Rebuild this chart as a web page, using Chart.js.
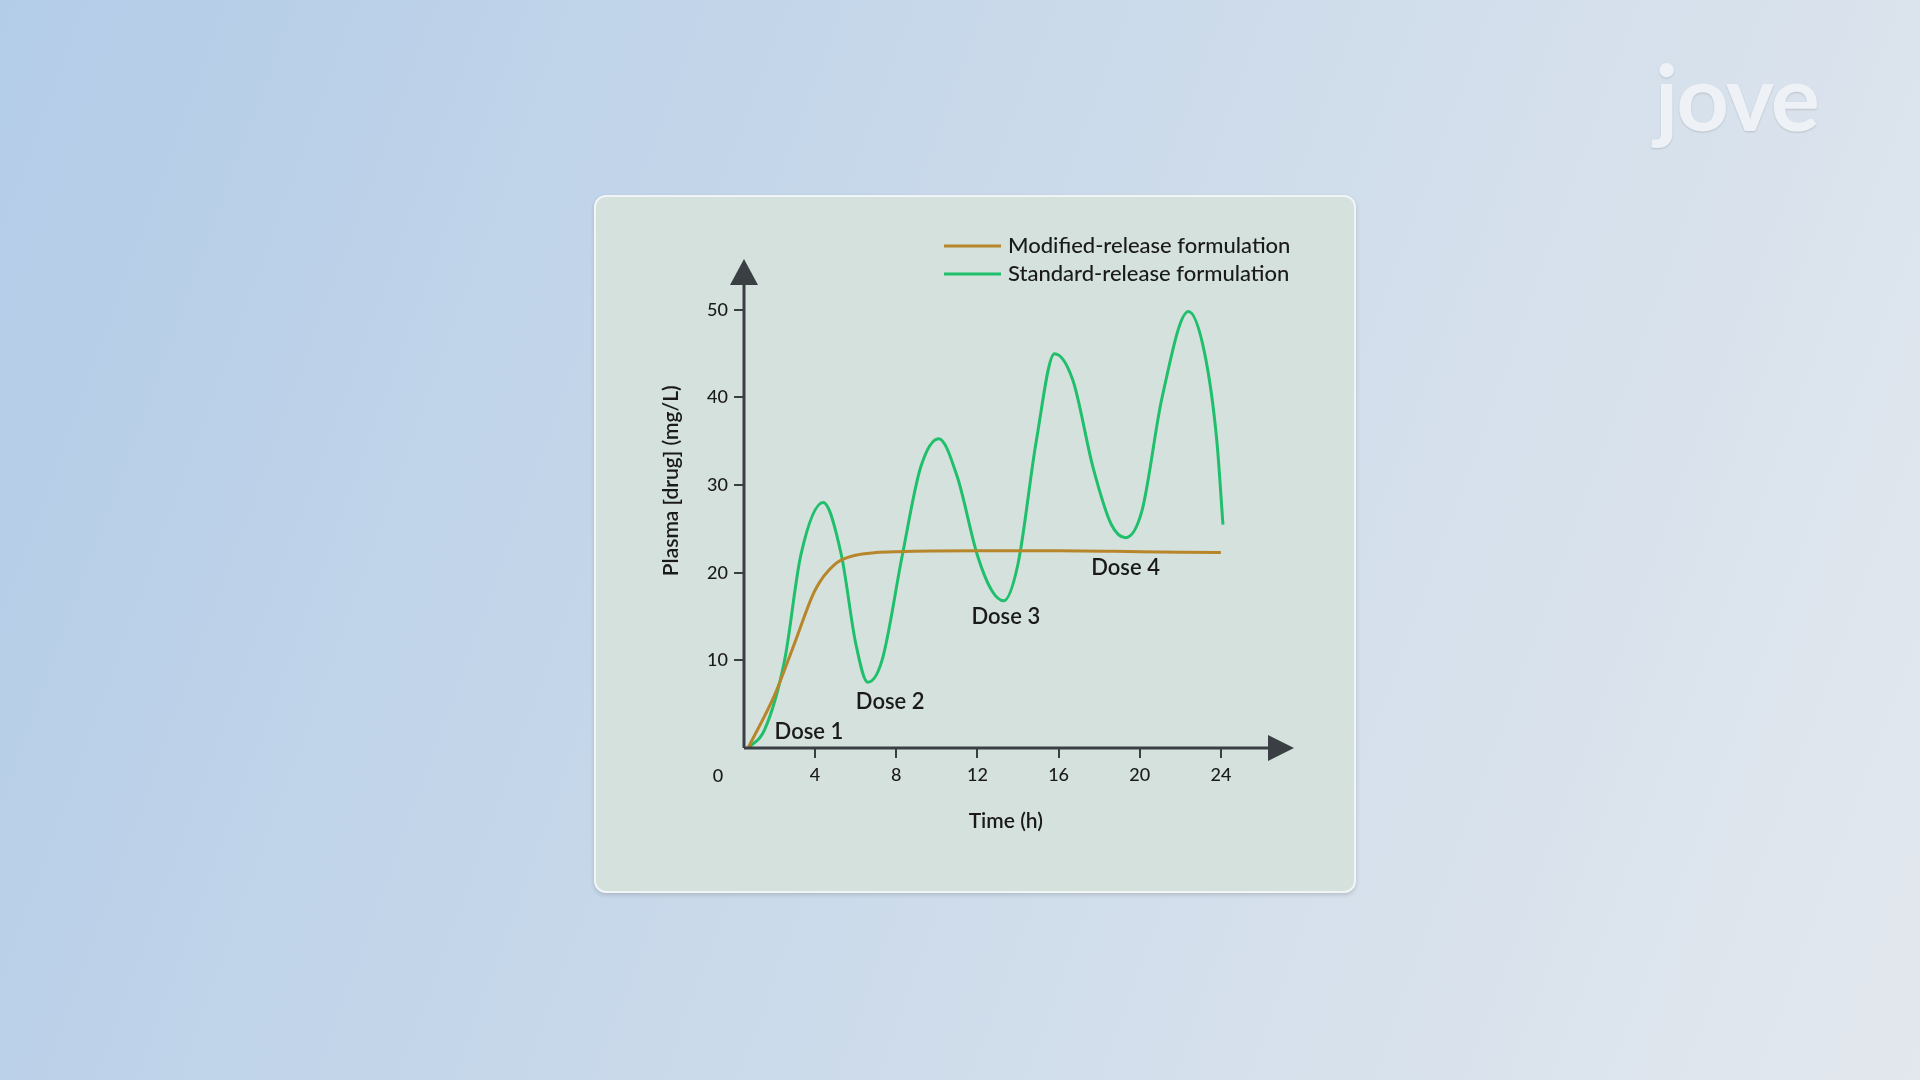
<!DOCTYPE html>
<html><head><meta charset="utf-8">
<script src="https://cdn.jsdelivr.net/npm/chart.js@4"></script>
<style>
html,body{margin:0;width:1920px;height:1080px;overflow:hidden;font-family:Lato,sans-serif}
body{background:linear-gradient(110deg,#b3cce8 0%,#c9d9ea 45%,#e3e8ee 100%)}
#card{position:absolute;left:594px;top:195px;width:762px;height:698px;background:#d5e1dd;border:2px solid #f2f5f6;border-radius:12px;box-shadow:0 2px 4px rgba(0,0,0,0.15);box-sizing:border-box}
#logo{position:absolute;left:1655px;top:40px;font-size:92px;font-weight:700;color:#eef2f6;letter-spacing:-2px;font-family:Lato,sans-serif;text-shadow:0 1px 2px rgba(0,0,0,0.15)}
canvas{position:absolute;left:0;top:0}
</style></head><body>
<div id="logo">jove</div>
<div id="card"><canvas id="c" width="758" height="694"></canvas></div>
<script>
// DATA
const xTicks = [4, 8, 12, 16, 20, 24];
const yTicks = [10, 20, 30, 40, 50];
const standardX = [0.7,1.5,2.5,3.3,4.4,5.3,6,6.6,7.3,8.3,9.2,10.1,11,12,12.7,13.3,14,14.9,15.8,16.7,17.7,18.6,19.3,20.1,21.1,22.4,23.2,23.8,24.1];
const standardY = [0,2,10,22,28,22,12,7.5,10,22,32,35.3,31,22,18,16.8,21,35,45,42,32,25.5,24,27,40,49.8,45,35,25.5];
const modifiedX = [0.7,2,3,4,5,6,7,8,12,16,20,24];
const modifiedY = [0,6,12,18,21,22,22.3,22.4,22.5,22.5,22.4,22.3];
const doses = ["Dose 1", "Dose 2", "Dose 3", "Dose 4"];
const doseX = [3.7, 7.7, 13.4, 19.3];
const doseY = [1.8, 5.3, 15, 20.5];

const ORANGE = "#b8862a", GREEN = "#1fbf6c", AXIS = "#3a3f44";
const pts = (xs, ys) => xs.map((x, i) => ({ x: x, y: ys[i] }));

const extras = {
  id: "extras",
  afterDraw(chart) {
    const c = chart.ctx, x = chart.scales.x, y = chart.scales.y;
    const ox = x.getPixelForValue(0.5), oy = y.getPixelForValue(0);
    const ex = x.getPixelForValue(27.6), ty = y.getPixelForValue(55.8);
    c.save();
    c.strokeStyle = AXIS; c.fillStyle = AXIS; c.lineWidth = 3;
    c.beginPath(); c.moveTo(ox, oy); c.lineTo(ex - 20, oy); c.moveTo(ox, oy); c.lineTo(ox, ty + 20); c.stroke();
    c.beginPath(); c.moveTo(ex, oy); c.lineTo(ex - 26, oy - 13); c.lineTo(ex - 26, oy + 13); c.fill();
    c.beginPath(); c.moveTo(ox, ty); c.lineTo(ox - 14, ty + 26); c.lineTo(ox + 14, ty + 26); c.fill();
    c.fillStyle = "#1a1a1a";
    c.font = "500 18px Lato"; c.textAlign = "center"; c.textBaseline = "middle";
    c.fillText("0", ox - 26, oy + 28);
    c.font = "600 22px Lato";
    doses.forEach((d, i) => c.fillText(d, x.getPixelForValue(doseX[i]), y.getPixelForValue(doseY[i])));
    c.font = "600 21px Lato";
    c.fillText("Time (h)", x.getPixelForValue(13.4), oy + 73);
    c.save(); c.translate(75, y.getPixelForValue(30.5)); c.rotate(-Math.PI / 2);
    c.fillText("Plasma [drug] (mg/L)", 0, 0); c.restore();
    // legend
    c.font = "500 22px Lato"; c.textAlign = "left"; c.lineWidth = 3;
    [["Modified-release formulation", ORANGE], ["Standard-release formulation", GREEN]].forEach((l, i) => {
      const ly = 49 + i * 28;
      c.strokeStyle = l[1]; c.beginPath(); c.moveTo(348, ly); c.lineTo(405, ly); c.stroke();
      c.fillText(l[0], 412, ly);
    });
    c.restore();
  }
};

new Chart(document.getElementById("c"), {
  type: "line",
  data: {
    datasets: [
      { label: "Modified-release formulation", data: pts(modifiedX, modifiedY), borderColor: ORANGE, borderWidth: 3, pointRadius: 0, cubicInterpolationMode: "monotone" },
      { label: "Standard-release formulation", data: pts(standardX, standardY), borderColor: GREEN, borderWidth: 3, pointRadius: 0, cubicInterpolationMode: "monotone" }
    ]
  },
  options: {
    responsive: false, animation: false,
    layout: { padding: { left: 0, top: 62, right: 60, bottom: 0 } },
    plugins: { legend: { display: false }, tooltip: { enabled: false } },
    scales: {
      x: {
        type: "linear", min: 0.5, max: 27.6,
        afterBuildTicks: s => { s.ticks = xTicks.map(v => ({ value: v })); },
        afterFit: s => { s.height = 143; },
        border: { display: false },
        grid: { drawOnChartArea: false, tickLength: 10, color: AXIS, lineWidth: 2 },
        ticks: { color: "#1a1a1a", font: { family: "Lato", size: 18, weight: "500" }, padding: 6 }
      },
      y: {
        min: 0, max: 55.8,
        afterBuildTicks: s => { s.ticks = yTicks.map(v => ({ value: v })); },
        afterFit: s => { s.width = 148; },
        border: { display: false },
        grid: { drawOnChartArea: false, tickLength: 10, color: AXIS, lineWidth: 2 },
        ticks: { color: "#1a1a1a", font: { family: "Lato", size: 18, weight: "500" }, padding: 6 }
      }
    }
  },
  plugins: [extras]
});
</script>
</body></html>
